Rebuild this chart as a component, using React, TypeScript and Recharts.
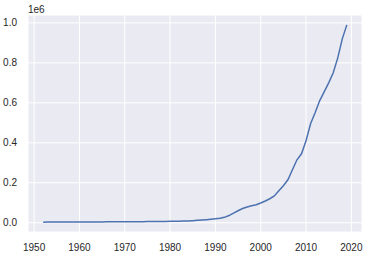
import { LineChart, Line, XAxis, YAxis, CartesianGrid } from 'recharts';

// years 1952..2019, values
const years = [
  1952, 1953, 1954, 1955, 1956, 1957, 1958, 1959, 1960, 1961,
  1962, 1963, 1964, 1965, 1966, 1967, 1968, 1969, 1970, 1971,
  1972, 1973, 1974, 1975, 1976, 1977, 1978, 1979, 1980, 1981,
  1982, 1983, 1984, 1985, 1986, 1987, 1988, 1989, 1990, 1991,
  1992, 1993, 1994, 1995, 1996, 1997, 1998, 1999, 2000, 2001,
  2002, 2003, 2004, 2005, 2006, 2007, 2008, 2009, 2010, 2011,
  2012, 2013, 2014, 2015, 2016, 2017, 2018, 2019,
];
const values = [
  3000, 3200, 3400, 3500, 3700, 3800, 3900, 4000, 4100, 4100,
  4000, 4100, 4200, 4300, 4400, 4500, 4600, 4700, 4800, 5000,
  5200, 5400, 5500, 5700, 5800, 6000, 6300, 6600, 7000, 7500,
  8000, 8500, 9300, 10500, 12000, 13500, 15500, 17500, 19500, 22000,
  27000, 36000, 48000, 60000, 71000, 79000, 85000, 90000, 99000, 109000,
  120000, 134000, 160000, 185000, 215000, 265000, 315000, 345000, 410000, 495000,
  550000, 610000, 655000, 700000, 750000, 825000, 920000, 990000,
];
const xTicks = [1950, 1960, 1970, 1980, 1990, 2000, 2010, 2020];
const yTicks = [0, 200000, 400000, 600000, 800000, 1000000];

const data = years.map((year, i) => ({ year, value: values[i] }));

const font = '"Liberation Sans", Arial, sans-serif';
const tickStyle = { fill: '#262626', fontSize: 10, fontFamily: font };

export default function App() {
  return (
    <div style={{ position: 'absolute', left: 0, top: 0, width: 370, height: 258, background: '#fff' }}>
      <LineChart width={370} height={258} data={data} margin={{ top: 15, right: 8, left: 0, bottom: 0 }}>
        <CartesianGrid fill="#EAEAF2" stroke="#ffffff" strokeWidth={1} />
        <XAxis
          dataKey="year"
          type="number"
          domain={[1948.65, 2022.35]}
          ticks={xTicks}
          axisLine={false}
          tickLine={false}
          tickMargin={6}
          height={26}
          tick={tickStyle}
        />
        <YAxis
          type="number"
          domain={[-46350, 1039350]}
          ticks={yTicks}
          tickFormatter={(v: number) => (v / 1e6).toFixed(1)}
          axisLine={false}
          tickLine={false}
          tickMargin={5}
          width={28}
          tick={tickStyle}
        />
        <Line
          dataKey="value"
          type="linear"
          stroke="#4C72B0"
          strokeWidth={1.5}
          dot={false}
          isAnimationActive={false}
        />
        <text x={28} y={13} fontSize={10} fontFamily={font} fill="#262626">1e6</text>
      </LineChart>
    </div>
  );
}
